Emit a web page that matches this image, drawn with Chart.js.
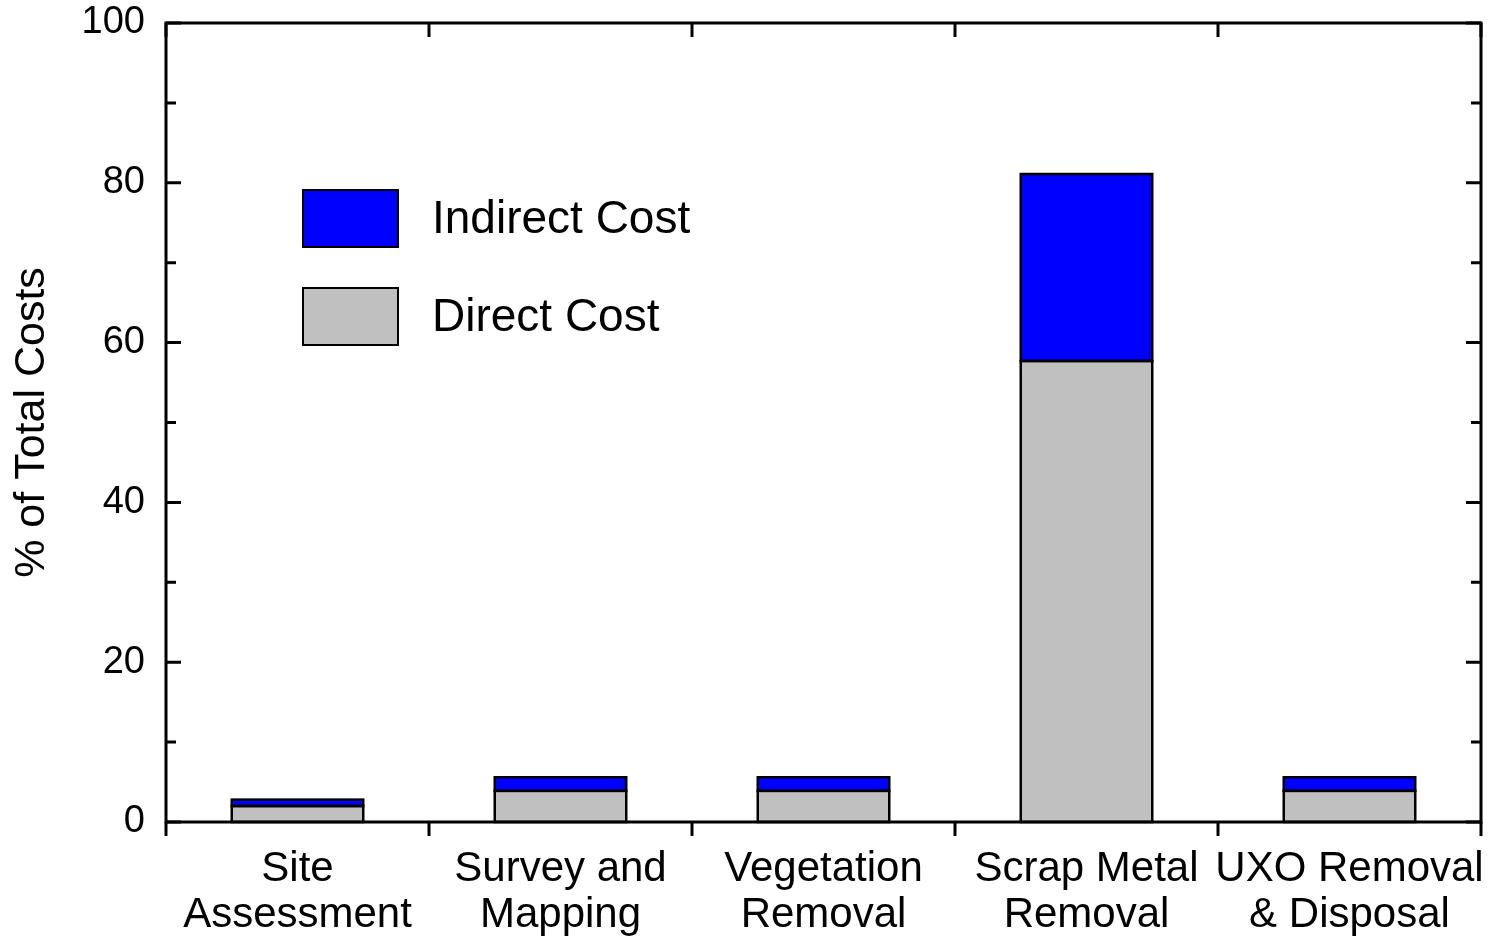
<!DOCTYPE html>
<html>
<head>
<meta charset="utf-8">
<script src="https://cdn.jsdelivr.net/npm/chart.js@4.4.1/dist/chart.umd.min.js"></script>
<style>
  html, body { margin: 0; padding: 0; background: #fff; }
  #wrap { width: 1490px; height: 938px; position: relative; }
</style>
</head>
<body>
<div id="wrap"><canvas id="c"></canvas></div>
<script>
const categories = [["Site", "Assessment"], ["Survey and", "Mapping"], ["Vegetation", "Removal"], ["Scrap Metal", "Removal"], ["UXO Removal", "& Disposal"]];
const directCost = [2.0, 3.9, 3.9, 57.7, 3.9];
const indirectCost = [0.8, 1.7, 1.7, 23.4, 1.7];
const yTickValues = [0, 20, 40, 60, 80, 100];
const seriesNames = ["Indirect Cost", "Direct Cost"];

const FONT = "'Liberation Sans', Arial, Helvetica, sans-serif";

const outlinePlugin = {
  id: 'outline',
  afterDatasetsDraw(chart) {
    const ctx = chart.ctx;
    ctx.save();
    ctx.strokeStyle = '#000';
    ctx.lineWidth = 2.5;
    chart.data.datasets.forEach((d, di) => {
      const meta = chart.getDatasetMeta(di);
      meta.data.forEach(el => {
        const p = el.getProps(['x', 'y', 'base', 'width'], true);
        const top = Math.min(p.y, p.base), h = Math.abs(p.base - p.y);
        ctx.strokeRect(p.x - p.width / 2, top, p.width, h);
      });
    });
    ctx.restore();
  }
};

const framePlugin = {
  id: 'frame',
  afterDraw(chart) {
    const ctx = chart.ctx;
    const a = chart.chartArea;
    const xs = chart.scales.x, ys = chart.scales.y;
    ctx.save();
    ctx.strokeStyle = '#000';
    ctx.lineWidth = 3;
    ctx.lineCap = 'butt';
    ctx.strokeRect(a.left, a.top, a.right - a.left, a.bottom - a.top);
    // y ticks (inward both sides)
    for (let v = 0; v <= 100; v += 10) {
      const y = ys.getPixelForValue(v);
      const len = (v % 20 === 0) ? 15 : 10;
      ctx.beginPath();
      ctx.moveTo(a.left, y); ctx.lineTo(a.left + len, y);
      ctx.moveTo(a.right, y); ctx.lineTo(a.right - len, y);
      ctx.stroke();
    }
    // x ticks at category boundaries: bottom outward, top inward
    const n = categories.length;
    const half = (xs.getPixelForValue(1) - xs.getPixelForValue(0)) / 2;
    for (let i = 0; i <= n; i++) {
      const x = (i < n) ? xs.getPixelForValue(i) - half : xs.getPixelForValue(n - 1) + half;
      ctx.beginPath();
      ctx.moveTo(x, a.bottom); ctx.lineTo(x, a.bottom + 14);
      ctx.moveTo(x, a.top); ctx.lineTo(x, a.top + 14);
      ctx.stroke();
    }
    // legend
    const ds = chart.data.datasets;
    const order = [1, 0];
    const boxL = a.left + 137, boxW = 95, boxH = 57;
    const tops = [a.top + 167, a.top + 265];
    ctx.font = "46px " + FONT;
    ctx.textBaseline = 'middle';
    ctx.textAlign = 'left';
    order.forEach((di, k) => {
      const d = ds[di];
      ctx.fillStyle = d.backgroundColor;
      ctx.fillRect(boxL, tops[k], boxW, boxH);
      ctx.lineWidth = 2;
      ctx.strokeStyle = '#000';
      ctx.strokeRect(boxL, tops[k], boxW, boxH);
      ctx.fillStyle = '#000';
      ctx.fillText(d.label, boxL + 129, tops[k] + boxH / 2 + 2);
    });
    ctx.restore();
  }
};

new Chart(document.getElementById('c'), {
  type: 'bar',
  data: {
    labels: categories,
    datasets: [
      { label: seriesNames[1], data: directCost, backgroundColor: '#c0c0c0', borderWidth: 0, barPercentage: 0.5, categoryPercentage: 1.0 },
      { label: seriesNames[0], data: indirectCost, backgroundColor: '#0000ff', borderWidth: 0, barPercentage: 0.5, categoryPercentage: 1.0 }
    ]
  },
  options: {
    responsive: true,
    maintainAspectRatio: false,
    animation: false,
    devicePixelRatio: 1,
    layout: { padding: { top: 23, right: 9, left: 0, bottom: 0 } },
    plugins: { legend: { display: false }, tooltip: { enabled: false } },
    scales: {
      x: {
        stacked: true,
        offset: true,
        grid: { display: false, drawTicks: false },
        border: { display: false },
        ticks: { color: '#000', font: { family: FONT, size: 42, lineHeight: 1.08 }, padding: 25, maxRotation: 0, autoSkip: false },
        afterFit(s) { s.height = 116; s.paddingLeft = 0; s.paddingRight = 0; }
      },
      y: {
        stacked: true,
        min: 0, max: 100,
        grid: { display: false, drawTicks: false },
        border: { display: false },
        afterBuildTicks(s) { s.ticks = yTickValues.map(v => ({ value: v })); },
        ticks: { color: '#000', font: { family: FONT, size: 38 }, padding: 21 },
        title: { display: true, text: '% of Total Costs', color: '#000', font: { family: FONT, size: 43 }, padding: { top: 6, bottom: 0 } },
        afterFit(s) { s.width = 166; s.paddingTop = 0; s.paddingBottom = 0; }
      }
    }
  },
  plugins: [outlinePlugin, framePlugin]
});
</script>
</body>
</html>
